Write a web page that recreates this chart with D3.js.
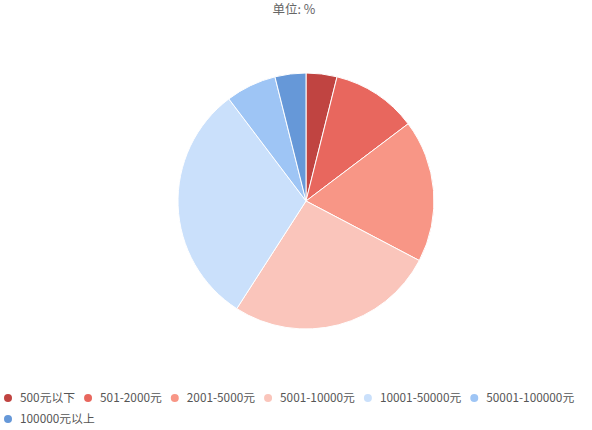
<!DOCTYPE html>
<html>
<head>
<meta charset="utf-8">
<script src="https://cdn.jsdelivr.net/npm/d3@7"></script>
<style>
  body { margin: 0; background: #fff; }
  text { font-family: "Noto Sans CJK SC", "Noto Sans", sans-serif; }
</style>
</head>
<body>
<div id="chart"></div>
<script>
// data
var categories = ["500元以下", "501-2000元", "2001-5000元", "5001-10000元", "10001-50000元", "50001-100000元", "100000元以上"];
var values = [3.9, 10.8, 18.0, 26.4, 30.6, 6.4, 3.9];
var colors = ["#c04441", "#e8675e", "#f89686", "#fac5bb", "#cae0fb", "#9ec5f5", "#6698d8"];
var title = "单位: %";

var width = 592, height = 430;
var cx = 306, cy = 201, radius = 128;

var svg = d3.select("#chart")
    .append("svg")
    .attr("width", width)
    .attr("height", height);

// title
svg.append("text")
    .attr("x", 294)
    .attr("y", 14)
    .attr("text-anchor", "middle")
    .style("font-size", "12.5px")
    .style("fill", "#666")
    .text(title);

// pie
var pie = d3.pie().sort(null).value(function (d) { return d; });
var arc = d3.arc().innerRadius(0).outerRadius(radius);

var color = d3.scaleOrdinal().domain(categories).range(colors);

svg.append("g")
    .attr("transform", "translate(" + cx + "," + cy + ")")
    .selectAll("path")
    .data(pie(values))
    .enter()
    .append("path")
    .attr("d", arc)
    .style("fill", function (d, i) { return color(categories[i]); })
    .style("stroke", "#fff")
    .style("stroke-width", 1);

// legend, wraps to a new row when full
var legend = svg.append("g");
var lx = 8, ly = 398, rowH = 21, maxX = 592;
categories.forEach(function (c) {
    var item = legend.append("g");
    item.append("circle")
        .attr("cx", 0)
        .attr("cy", 0)
        .attr("r", 4)
        .style("fill", color(c));
    var t = item.append("text")
        .attr("x", 12)
        .attr("y", 4)
        .style("font-size", "11.8px")
        .style("fill", "#555")
        .text(c);
    var w = 12 + t.node().getComputedTextLength();
    if (lx + w > maxX) {
        lx = 8;
        ly += rowH;
    }
    item.attr("transform", "translate(" + lx + "," + ly + ")");
    lx += w + 13;
});
</script>
</body>
</html>
